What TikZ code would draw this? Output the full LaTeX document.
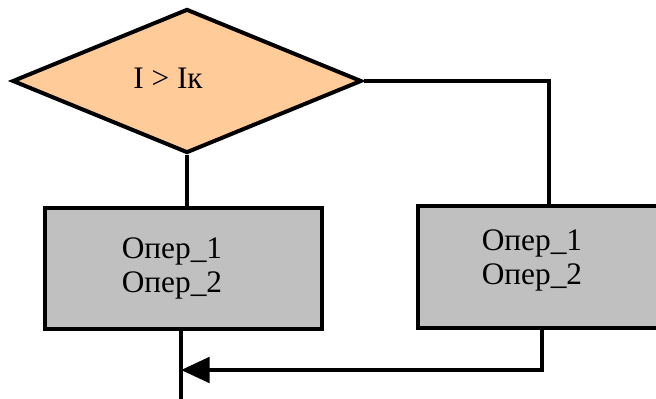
\documentclass[tikz,border=0pt]{standalone}
\usepackage{fontspec}
\setmainfont{Liberation Serif}
\usetikzlibrary{shapes.geometric,arrows.meta,calc}
\definecolor{condfill}{HTML}{FFCC99}
\definecolor{opfill}{HTML}{C0C0C0}
\begin{document}
\begin{tikzpicture}[x=0.75pt,y=-0.75pt,
  cond/.style={diamond,draw=black,line width=3pt,fill=condfill,inner sep=0pt,
    minimum width=262pt,minimum height=108pt},
  opbox/.style={rectangle,draw=black,line width=2.7pt,fill=opfill,inner sep=0pt},
  optext/.style={align=left,inner sep=0pt,font=\fontsize{23.5}{25.5}\selectfont},
  wire/.style={line width=3pt,line cap=butt},
  flow/.style={line width=3.4pt,-{Triangle[length=21.5pt,width=19pt]}}]
\useasboundingbox (0,0) rectangle (656,399);
\clip (0,0) rectangle (656,399);
% decision
\node[cond] (dec) at (187,81) {};
\node[optext] (dectext) at (168,78) {I > Iк};
% operation blocks
\node[opbox,minimum width=207.75pt,minimum height=90.75pt] (lbox) at (183.5,268.5) {};
\node[optext] (ltext) at (172,268) {Опер\_1\\Опер\_2};
\node[opbox,minimum width=181.5pt,minimum height=91.5pt] (rbox) at (539,267) {};
\node[optext] (rtext) at (532,260) {Опер\_1\\Опер\_2};
% junction points
\coordinate (rin) at (549,206);
\coordinate (rout) at (542,328);
\coordinate (lout) at (181,329);
\coordinate (exit) at (181,400);
\coordinate (merge) at (181,370);
% connectors
\draw[wire] (dec.south) -- (dec.south |- lbox.north);
\draw[wire,line width=2.6pt] (dec.east) -| (rin);
\draw[wire] (lout) -- (exit);
\draw[flow] (rout) |- (merge);
\end{tikzpicture}
\end{document}
